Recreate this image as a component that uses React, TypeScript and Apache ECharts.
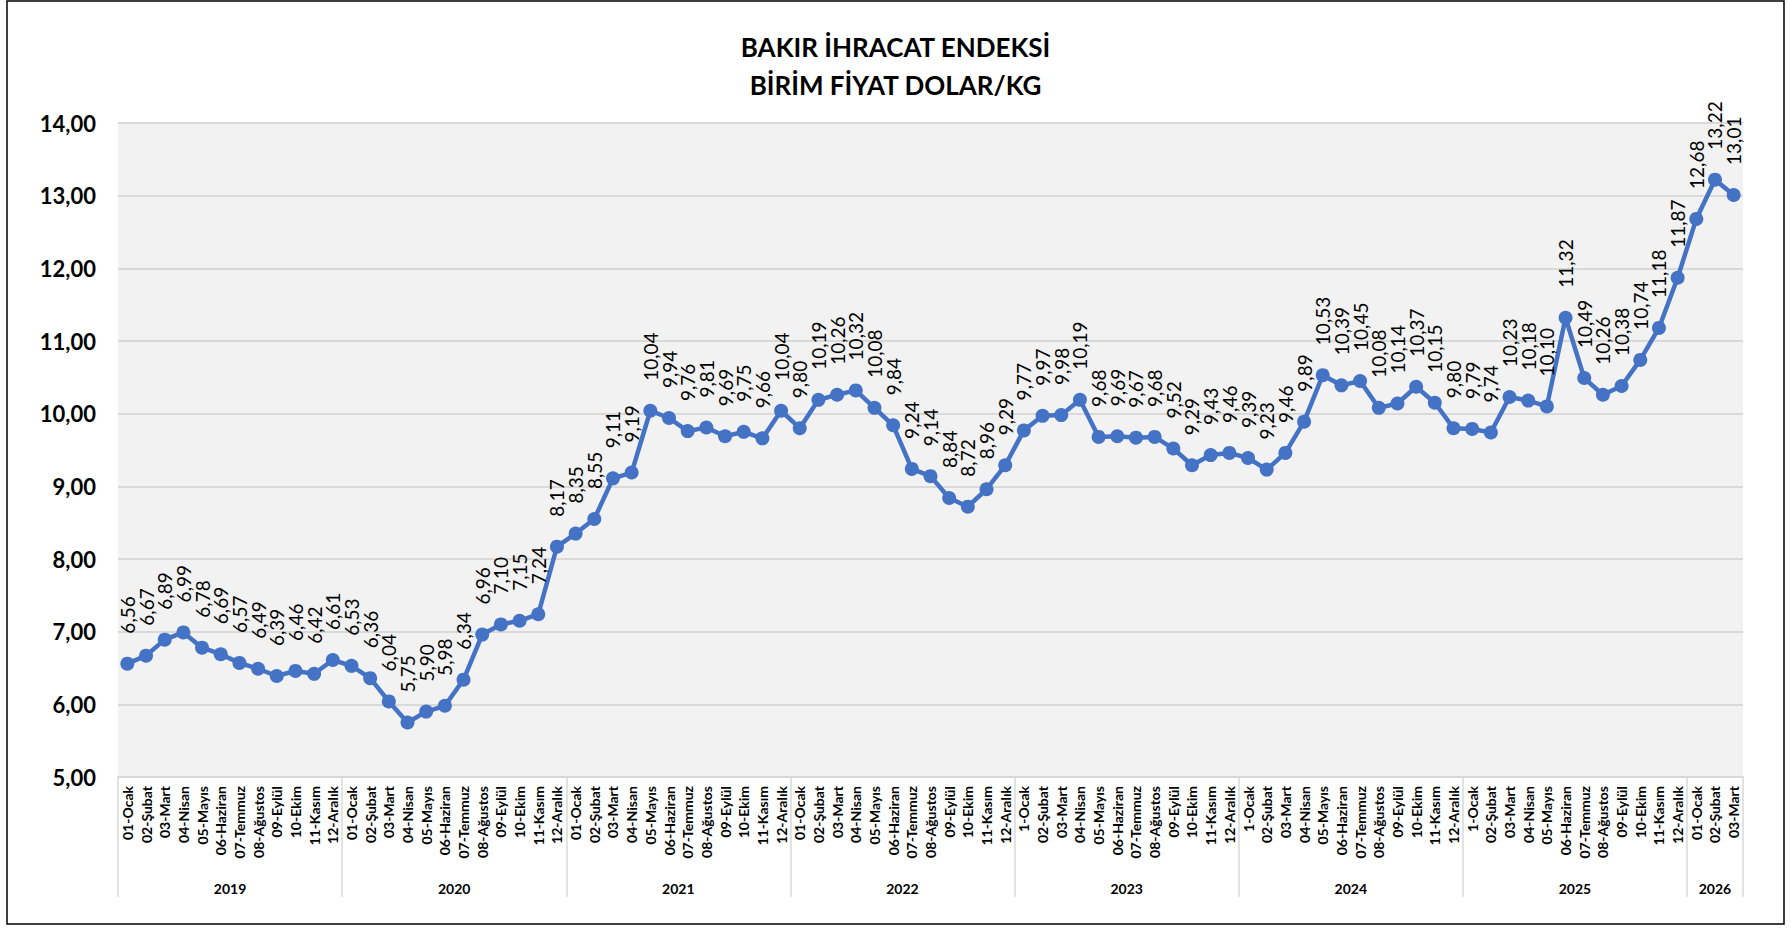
import React, { useEffect, useRef } from "react";
import * as echarts from "echarts";

const years = ["2019", "2020", "2021", "2022", "2023", "2024", "2025", "2026"];

const cat2019 = ["01-Ocak", "02-Şubat", "03-Mart", "04-Nisan", "05-Mayıs", "06-Haziran", "07-Temmuz", "08-Ağustos", "09-Eylül", "10-Ekim", "11-Kasım", "12-Aralık"];
const cat2020 = ["01-Ocak", "02-Şubat", "03-Mart", "04-Nisan", "05-Mayıs", "06-Haziran", "07-Temmuz", "08-Ağustos", "09-Eylül", "10-Ekim", "11-Kasım", "12-Aralık"];
const cat2021 = ["01-Ocak", "02-Şubat", "03-Mart", "04-Nisan", "05-Mayıs", "06-Haziran", "07-Temmuz", "08-Ağustos", "09-Eylül", "10-Ekim", "11-Kasım", "12-Aralık"];
const cat2022 = ["01-Ocak", "02-Şubat", "03-Mart", "04-Nisan", "05-Mayıs", "06-Haziran", "07-Temmuz", "08-Ağustos", "09-Eylül", "10-Ekim", "11-Kasım", "12-Aralık"];
const cat2023 = ["1-Ocak", "02-Şubat", "03-Mart", "04-Nisan", "05-Mayıs", "06-Haziran", "07-Temmuz", "08-Ağustos", "09-Eylül", "10-Ekim", "11-Kasım", "12-Aralık"];
const cat2024 = ["1-Ocak", "02-Şubat", "03-Mart", "04-Nisan", "05-Mayıs", "06-Haziran", "07-Temmuz", "08-Ağustos", "09-Eylül", "10-Ekim", "11-Kasım", "12-Aralık"];
const cat2025 = ["1-Ocak", "02-Şubat", "03-Mart", "04-Nisan", "05-Mayıs", "06-Haziran", "07-Temmuz", "08-Ağustos", "09-Eylül", "10-Ekim", "11-Kasım", "12-Aralık"];
const cat2026 = ["01-Ocak", "02-Şubat", "03-Mart"];

const v2019 = [6.56, 6.67, 6.89, 6.99, 6.78, 6.69, 6.57, 6.49, 6.39, 6.46, 6.42, 6.61];
const v2020 = [6.53, 6.36, 6.04, 5.75, 5.9, 5.98, 6.34, 6.96, 7.1, 7.15, 7.24, 8.17];
const v2021 = [8.35, 8.55, 9.11, 9.19, 10.04, 9.94, 9.76, 9.81, 9.69, 9.75, 9.66, 10.04];
const v2022 = [9.8, 10.19, 10.26, 10.32, 10.08, 9.84, 9.24, 9.14, 8.84, 8.72, 8.96, 9.29];
const v2023 = [9.77, 9.97, 9.98, 10.19, 9.68, 9.69, 9.67, 9.68, 9.52, 9.29, 9.43, 9.46];
const v2024 = [9.39, 9.23, 9.46, 9.89, 10.53, 10.39, 10.45, 10.08, 10.14, 10.37, 10.15, 9.8];
const v2025 = [9.79, 9.74, 10.23, 10.18, 10.1, 11.32, 10.49, 10.26, 10.38, 10.74, 11.18, 11.87];
const v2026 = [12.68, 13.22, 13.01];

const yTicks = [5, 6, 7, 8, 9, 10, 11, 12, 13, 14];

const catGroups = [cat2019, cat2020, cat2021, cat2022, cat2023, cat2024, cat2025, cat2026];
const valGroups = [v2019, v2020, v2021, v2022, v2023, v2024, v2025, v2026];

const FONT = "Lato, 'Noto Sans', sans-serif";

export default function App() {
  const ref = useRef<HTMLDivElement>(null);

  useEffect(() => {
    if (!ref.current) return;
    const chart = echarts.init(ref.current, undefined, { renderer: "svg" });

    const categories: string[] = [];
    const values: number[] = [];
    catGroups.forEach((g) => categories.push(...g));
    valGroups.forEach((g) => values.push(...g));

    const boundaries: number[] = [];
    const centers: { pos: number; label: string }[] = [];
    let acc = 0;
    catGroups.forEach((g, i) => {
      boundaries.push(acc);
      centers.push({ pos: acc + g.length / 2, label: years[i] });
      acc += g.length;
    });
    const total = acc;

    const fmt = (v: number) => v.toFixed(2).replace(".", ",");

    const option: any = {
      animation: false,
      backgroundColor: "#ffffff",
      title: {
        text: "BAKIR İHRACAT ENDEKSİ\nBİRİM FİYAT DOLAR/KG",
        left: "center",
        top: 23,
        textStyle: {
          fontFamily: FONT,
          fontWeight: "bold",
          fontSize: 26,
          lineHeight: 38,
          color: "#000000",
        },
      },
      graphic: [
        {
          type: "rect",
          shape: { x: 7, y: 1, width: 1777, height: 923 },
          style: { fill: "none", stroke: "#000000", lineWidth: 1.5 },
          silent: true,
        },
      ],
      grid: {
        left: 118,
        right: 48,
        top: 123,
        bottom: 151,
        show: true,
        backgroundColor: "#f2f2f2",
        borderWidth: 0,
        containLabel: false,
      },
      xAxis: [
        {
          type: "category",
          data: categories,
          boundaryGap: true,
          position: "bottom",
          axisLine: { show: true, lineStyle: { color: "#d9d9d9", width: 2 } },
          axisTick: {
            show: true,
            interval: (index: number) => boundaries.indexOf(index) >= 0,
            length: 120,
            lineStyle: { color: "#d9d9d9", width: 1.5 },
          },
          axisLabel: {
            interval: 0,
            rotate: 90,
            margin: 9,
            fontFamily: FONT,
            fontWeight: "bold",
            fontSize: 14,
            color: "#000000",
          },
          splitLine: { show: false },
        },
        {
          type: "value",
          min: 0,
          max: total,
          interval: 0.5,
          position: "bottom",
          axisLine: { show: false },
          axisTick: { show: false },
          splitLine: { show: false },
          axisLabel: {
            margin: 104,
            fontFamily: FONT,
            fontWeight: "bold",
            fontSize: 14,
            color: "#000000",
            showMinLabel: true,
            showMaxLabel: true,
            hideOverlap: false,
            formatter: (v: number) => {
              const c = centers.find((c) => Math.abs(c.pos - v) < 1e-6);
              return c ? c.label : "";
            },
          },
        },
      ],
      yAxis: {
        type: "value",
        min: yTicks[0],
        max: yTicks[yTicks.length - 1],
        interval: 1,
        axisLine: { show: false },
        axisTick: { show: false },
        splitLine: { show: true, lineStyle: { color: "#d9d9d9", width: 2 } },
        axisLabel: {
          margin: 22,
          fontFamily: FONT,
          fontWeight: "bold",
          fontSize: 22,
          color: "#000000",
          formatter: (v: number) => fmt(v),
        },
      },
      series: [
        {
          type: "line",
          xAxisIndex: 0,
          yAxisIndex: 0,
          data: values,
          symbol: "circle",
          symbolSize: 14,
          lineStyle: { color: "#4472c4", width: 4.5 },
          itemStyle: { color: "#4472c4" },
          label: {
            show: true,
            position: "top",
            distance: 23,
            rotate: 90,
            align: "left",
            verticalAlign: "middle",
            fontFamily: FONT,
            fontSize: 19,
            color: "#000000",
            formatter: (p: any) => fmt(p.value),
          },
          labelLayout: { hideOverlap: false },
        },
      ],
    };

    chart.setOption(option);
    return () => chart.dispose();
  }, []);

  return (
    <div
      ref={ref}
      style={{ position: "absolute", left: 0, top: 0, width: 1791, height: 928 }}
    />
  );
}
